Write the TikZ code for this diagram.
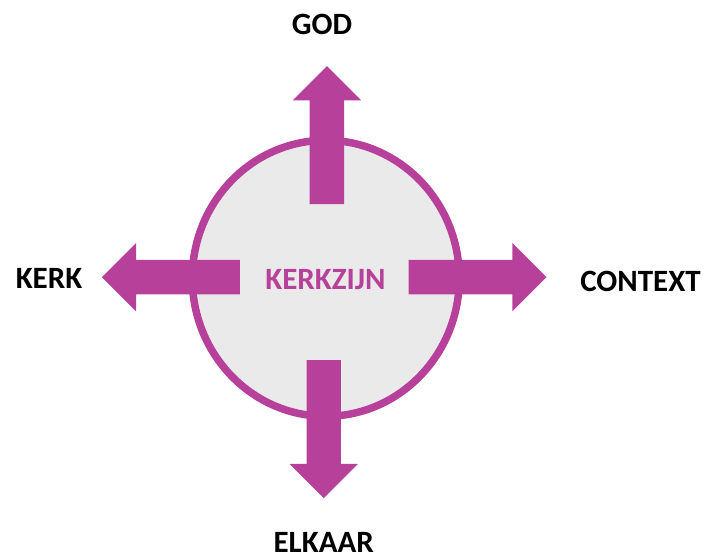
\documentclass[tikz,border=0pt]{standalone}
\usepackage{fontspec}
\setmainfont{Carlito}
\usepackage{tikz}
\usetikzlibrary{shapes.arrows,shapes.geometric,positioning}
\definecolor{kerkpaars}{HTML}{B7419A}
\definecolor{kerkgrijs}{HTML}{EAEAEA}
\tikzset{
    kern/.style={
        ellipse,
        draw=kerkpaars,
        fill=kerkgrijs,
        line width=7.5pt,
        inner sep=0pt,
        minimum width=267pt,
        minimum height=276pt
    },
    pijl/.style={
        single arrow,
        fill=kerkpaars,
        draw=none,
        inner sep=17pt, % half the shaft
        minimum height=138pt, % tip to tail
        single arrow head extend=17pt,
        anchor=tail
    },
    label/.style={
        font=\fontsize{31}{31}\selectfont\bfseries,
        inner sep=0pt,
        anchor=base
    }
}

\begin{document}
\begin{tikzpicture}[x=1pt, y=-1pt]
        \useasboundingbox (0,0) rectangle (718,556);
        % Nodes
        \node (kern) [kern] at (325.8,278.3) {};
        \node (kerkzijn) [label, text=kerkpaars] at (325.5,289.3) {KERKZIJN};
        \node (god) [label] at (322,35) {GOD};
        \node (kerk) [label] at (49,289) {KERK};
        \node (context) [label] at (640.5,291.7) {CONTEXT};
        \node (elkaar) [label] at (323.7,552.5) {ELKAAR};

        % Arrows
        \node (pijlgod) [pijl, shape border rotate=90] at (326.9,204.3) {};
        \node (pijlkerk) [pijl, shape border rotate=180] at (240,277.2) {};
        \node (pijlcontext) [pijl] at (408.3,277.2) {};
        \node (pijlelkaar) [pijl, shape border rotate=270] at (323.7,360) {};
    \end{tikzpicture}
\end{document}
